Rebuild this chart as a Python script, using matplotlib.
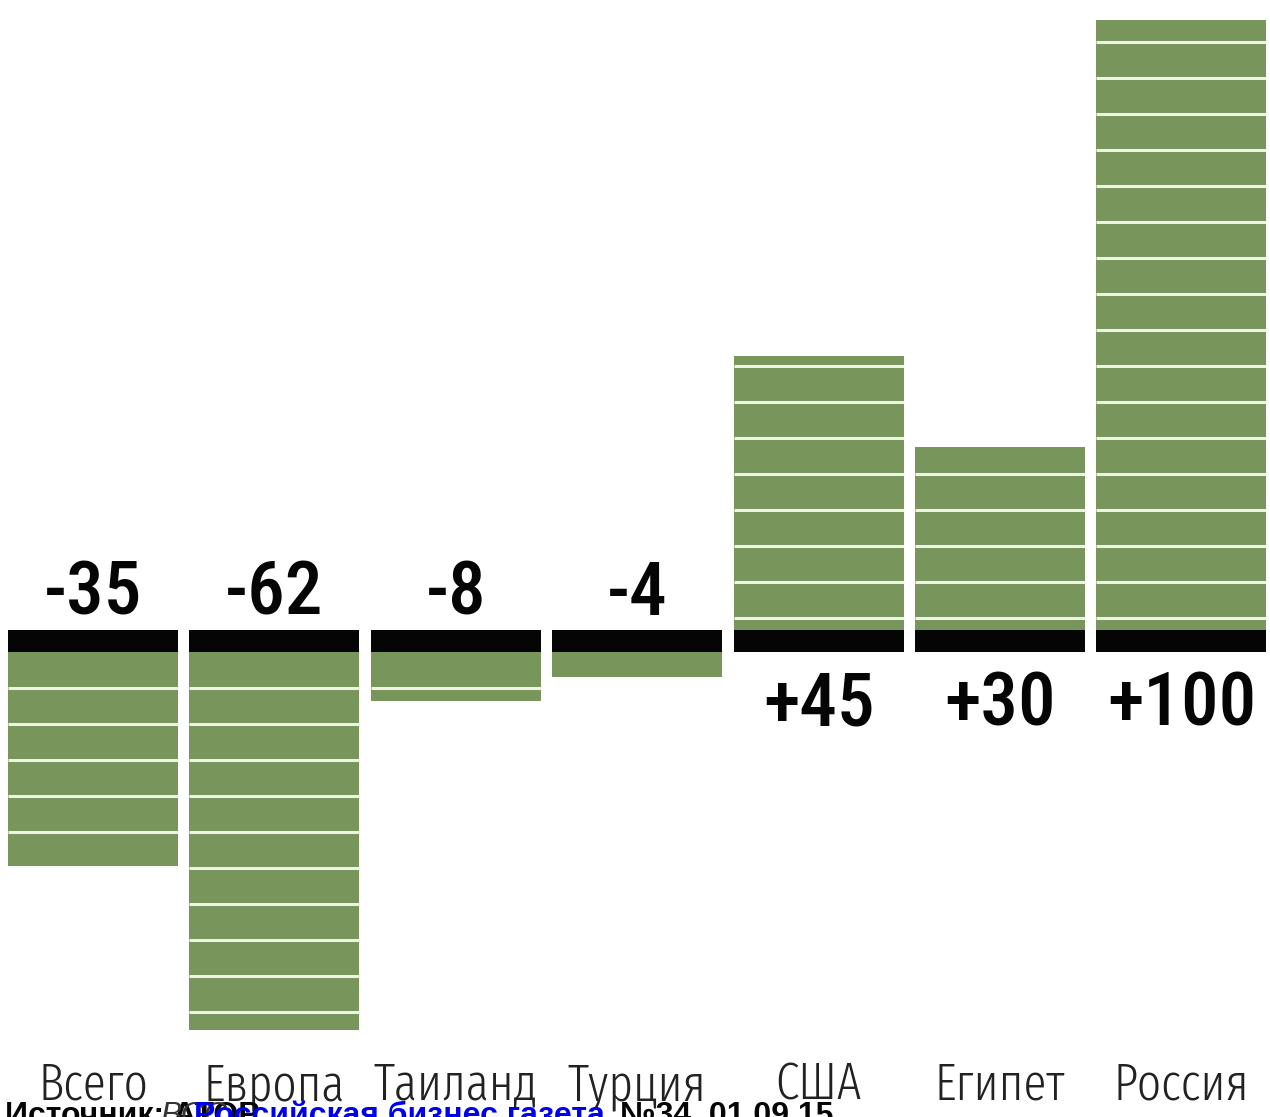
import matplotlib
matplotlib.use("Agg")
import matplotlib.pyplot as plt

# -------------------------
# Data
# -------------------------
regions = ["Всего", "Европа", "Таиланд", "Турция", "США", "Египет", "Россия"]
change = [-35, -62, -8, -4, 45, 30, 100]

source_text = "Источник: АТОР"
credit_text = "ВСС"
paper_text = "Российская бизнес газета"
issue_text = "№34, 01.09.15"

# -------------------------
# Style
# -------------------------
GREEN = "#78955c"
BLACK = "#050505"
STRIPE = "#eef4e4"
BAND = 3.6        # thickness of the black zero band (value units)
STEP = 5.9        # spacing of white stripes inside bars
POS_OFFSET = 2.0  # first stripe above the band
WIDTH = 0.937

NUM_FONT = ["Roboto Condensed", "Liberation Sans", "DejaVu Sans"]
CAT_FONT = ["Fira Sans Extra Condensed", "Roboto Condensed", "Liberation Sans", "DejaVu Sans"]
SRC_FONT = ["Liberation Sans", "DejaVu Sans"]

fig = plt.figure(figsize=(12.7, 11.17), dpi=100)
ax = fig.add_axes([0, 0, 1, 1])
ax.set_xlim(-0.513, 6.488)
ax.set_ylim(-79.8, 103.3)
ax.axis("off")

x = range(len(regions))

# black zero band
ax.bar(x, [-BAND] * len(regions), width=WIDTH, bottom=0, color=BLACK,
       linewidth=0, zorder=3)

for i, v in enumerate(change):
    left, right = i - WIDTH / 2, i + WIDTH / 2
    if v > 0:
        ax.bar(i, v, width=WIDTH, bottom=0, color=GREEN, linewidth=0, zorder=2)
        y = POS_OFFSET
        while y < v - 0.3:
            ax.hlines(y, left, right, color=STRIPE, linewidth=2.2, zorder=2.5)
            y += STEP
        ax.text(i, -15.6, f"{v:+d}", ha="center", va="baseline",
                fontsize=54, fontweight=500, family=NUM_FONT, color=BLACK)
    else:
        ax.bar(i, v, width=WIDTH, bottom=-BAND, color=GREEN, linewidth=0, zorder=2)
        y = -BAND - STEP
        while y > -BAND + v + 0.3:
            ax.hlines(y, left, right, color=STRIPE, linewidth=2.2, zorder=2.5)
            y -= STEP
        ax.text(i, 2.5, f"{v:d}", ha="center", va="baseline",
                fontsize=54, fontweight=500, family=NUM_FONT, color=BLACK)

    ax.text(i, -77.0, regions[i], ha="center", va="baseline",
            fontsize=37, fontweight=300, family=CAT_FONT, color="#222222")

# source line, partly cut off at the bottom edge
base = -0.006
fig.text(0.004, base, source_text, ha="left", va="baseline", fontsize=23,
         fontweight="bold", family=SRC_FONT, color=BLACK)
fig.text(0.126, base, credit_text, ha="left", va="baseline", fontsize=23,
         style="italic", family=SRC_FONT, color="#333333")
fig.text(0.153, base, paper_text, ha="left", va="baseline", fontsize=23,
         fontweight="bold", family=SRC_FONT, color="#0000ee")
fig.text(0.488, base, issue_text, ha="left", va="baseline", fontsize=23,
         fontweight="bold", family=SRC_FONT, color=BLACK)

fig.savefig("out.png", dpi=100, facecolor="white")
